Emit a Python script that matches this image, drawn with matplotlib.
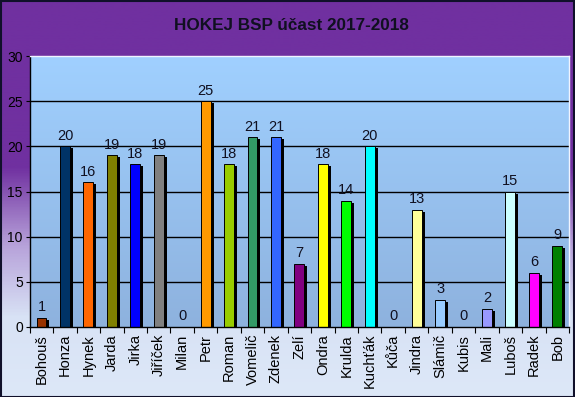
import numpy as np
import matplotlib
matplotlib.use("Agg")
import matplotlib.pyplot as plt
from matplotlib.colors import LinearSegmentedColormap
from matplotlib.patches import Rectangle

plt.rcParams['font.family'] = ['Liberation Sans', 'DejaVu Sans']

names = ["Bohouš", "Honza", "Hynek", "Jarda", "Jirka", "Jiříček", "Milan", "Petr",
         "Roman", "Vomelič", "Zdenek", "Zelí", "Ondra", "Krulda", "Kuchťák", "Kůča",
         "Jindra", "Slámič", "Kubis", "Mali", "Luboš", "Radek", "Bob"]
values = [1, 20, 16, 19, 18, 19, 0, 25, 18, 21, 21, 7, 18, 14, 20, 0, 13, 3, 0, 2, 15, 6, 9]
colors = ["#993300", "#003366", "#FF6600", "#808000", "#0000FF", "#808080", "#FFFFFF",
          "#FF9900", "#99CC00", "#339966", "#3366FF", "#800080", "#FFFF00", "#00FF00",
          "#00FFFF", "#FFFFFF", "#FFFF99", "#99CCFF", "#FFFFFF", "#9999FF", "#CCFFFF",
          "#FF00FF", "#008000"]
title = "HOKEJ BSP účast 2017-2018"
yticks = [0, 5, 10, 15, 20, 25, 30]

W, H = 575, 397
fig = plt.figure(figsize=(W / 100, H / 100), dpi=100)

# figure background gradient
bg = fig.add_axes([0, 0, 1, 1], zorder=-10)
bg.set_axis_off()
stops = [(0.0, "#7030A0"), (0.42, "#7030A0"), (0.62, "#B7A2DA"), (0.80, "#D8E2F5"), (1.0, "#DDE8F8")]
cmap_bg = LinearSegmentedColormap.from_list("bg", stops)
grad = np.linspace(0, 1, 400).reshape(-1, 1)
bg.imshow(grad, cmap=cmap_bg, aspect='auto', extent=[0, 1, 0, 1], origin='upper')
bg.set_xlim(0, 1); bg.set_ylim(0, 1)

left, right, top, bottom = 29.8, 569, 56, 327
ax = fig.add_axes([left / W, 1 - bottom / H, (right - left) / W, (bottom - top) / H])
ax.patch.set_visible(False)
n = len(names)
x = np.arange(n)
ax.set_xlim(-0.5, n - 0.5)
ax.set_ylim(0, 30)

cmap_pa = LinearSegmentedColormap.from_list("pa", [(0, "#A0D0FF"), (1, "#8EB2DE")])
ax.imshow(grad, cmap=cmap_pa, aspect='auto', extent=[-0.5, n - 0.5, 0, 30],
          origin='upper', zorder=0)

for yv in yticks[1:-1]:
    ax.axhline(yv, color='black', lw=1.0, zorder=1)

bw = 0.42
sx = 3 / ((right - left) / n)
sy = 2 / ((bottom - top) / 30)
shadow_h = [max(v - sy, 0) for v in values]
ax.bar(x + sx, shadow_h, width=bw, color='black', zorder=2)
ax.bar(x, values, width=bw, color=colors, edgecolor='black', linewidth=0.7, zorder=3)

for xi, v in zip(x, values):
    ax.text(xi, v + 0.4, str(v), ha='center', va='bottom', fontsize=10.5, color='#101020', zorder=4)

ax.set_xticks(x)
ax.set_xticklabels(names, rotation=90, fontsize=10.5)
ax.set_xticks(np.arange(-0.5, n, 1), minor=True)
ax.tick_params(axis='x', which='major', length=0, pad=5)
ax.tick_params(axis='x', which='minor', length=4, direction='out', width=0.8)
ax.set_yticks(yticks)
ax.tick_params(axis='y', length=3, direction='out', width=0.8, labelsize=10, pad=2)

for s in ['left', 'bottom']:
    ax.spines[s].set_color('black'); ax.spines[s].set_linewidth(1.0)
for s in ['top', 'right']:
    ax.spines[s].set_color('#F0F4FF'); ax.spines[s].set_linewidth(1.0)
for sp in ax.spines.values():
    sp.set_zorder(5)

fig.text(0.507, 1 - 25 / H, title, ha='center', va='center', fontsize=12.3,
         fontweight='bold', color='#101020')

fig.patches.append(Rectangle((0.001, 0.001), 0.997, 0.997, transform=fig.transFigure,
                             fill=False, edgecolor='#10102A', linewidth=1.5, zorder=20))

fig.savefig("out.png", dpi=100)
